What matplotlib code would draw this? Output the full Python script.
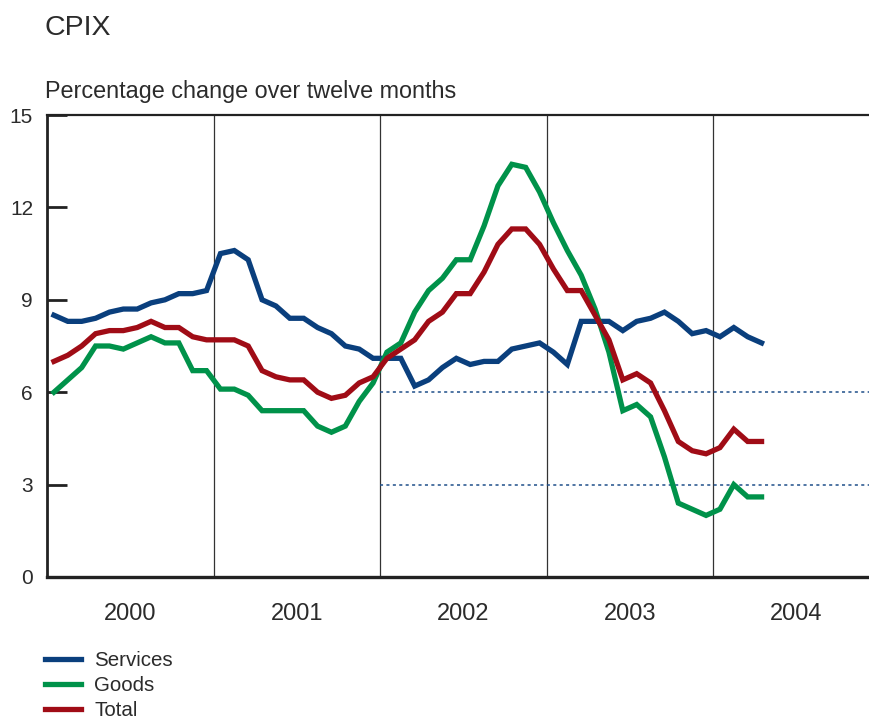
import numpy as np
import matplotlib
matplotlib.use('Agg')
import matplotlib.pyplot as plt

plt.rcParams['font.family'] = ['Liberation Sans', 'DejaVu Sans']

# monthly, Jan 2000 - Apr 2004
services = [8.5, 8.3, 8.3, 8.4, 8.6, 8.7, 8.7, 8.9, 9.0, 9.2, 9.2, 9.3,
            10.5, 10.6, 10.3, 9.0, 8.8, 8.4, 8.4, 8.1, 7.9, 7.5, 7.4, 7.1,
            7.1, 7.1, 6.2, 6.4, 6.8, 7.1, 6.9, 7.0, 7.0, 7.4, 7.5, 7.6,
            7.3, 6.9, 8.3, 8.3, 8.3, 8.0, 8.3, 8.4, 8.6, 8.3, 7.9, 8.0,
            7.8, 8.1, 7.8, 7.6]
goods = [6.0, 6.4, 6.8, 7.5, 7.5, 7.4, 7.6, 7.8, 7.6, 7.6, 6.7, 6.7,
         6.1, 6.1, 5.9, 5.4, 5.4, 5.4, 5.4, 4.9, 4.7, 4.9, 5.7, 6.3,
         7.3, 7.6, 8.6, 9.3, 9.7, 10.3, 10.3, 11.4, 12.7, 13.4, 13.3, 12.5,
         11.5, 10.6, 9.8, 8.7, 7.3, 5.4, 5.6, 5.2, 3.9, 2.4, 2.2, 2.0,
         2.2, 3.0, 2.6, 2.6]
total = [7.0, 7.2, 7.5, 7.9, 8.0, 8.0, 8.1, 8.3, 8.1, 8.1, 7.8, 7.7,
         7.7, 7.7, 7.5, 6.7, 6.5, 6.4, 6.4, 6.0, 5.8, 5.9, 6.3, 6.5,
         7.1, 7.4, 7.7, 8.3, 8.6, 9.2, 9.2, 9.9, 10.8, 11.3, 11.3, 10.8,
         10.0, 9.3, 9.3, 8.5, 7.7, 6.4, 6.6, 6.3, 5.4, 4.4, 4.1, 4.0,
         4.2, 4.8, 4.4, 4.4]
years = [2000, 2001, 2002, 2003, 2004]
target_lines = [6, 3]  # target range from 2002
yticks = [0, 3, 6, 9, 12, 15]

c_serv = '#0a3f7d'
c_goods = '#00924a'
c_total = '#a00c16'
txt = '#2b2b2b'

x = 2000 + (np.arange(len(services)) + 0.5) / 12
xmax = 2000 + 822 / 166.5

fig = plt.figure(figsize=(8.69, 7.19), dpi=100)
ax = fig.add_axes([47 / 869, 142 / 719, 822 / 869, 462 / 719])

for yr in years[1:]:
    ax.axvline(yr, color='#333333', lw=0.9, zorder=1)
for t in target_lines:
    ax.plot([2002, xmax], [t, t], color='#1f4f8a', lw=1.1, dashes=(2, 2.2), zorder=1)

ax.plot(x, services, color=c_serv, lw=3.8, label='Services', zorder=3, solid_joinstyle='miter')
ax.plot(x, goods, color=c_goods, lw=3.8, label='Goods', zorder=3, solid_joinstyle='miter')
ax.plot(x, total, color=c_total, lw=3.8, label='Total', zorder=3, solid_joinstyle='miter')

ax.set_xlim(2000, xmax)
ax.set_ylim(0, 15)
ax.set_yticks(yticks)
ax.tick_params(axis='y', direction='in', length=14.5, width=2, color='#222222',
               labelsize=15, labelcolor=txt, pad=10)
ax.yaxis.get_major_ticks()[0].tick1line.set_color(c_serv)
ax.set_xticks([y + 0.5 for y in years])
ax.set_xticklabels([str(y) for y in years])
ax.tick_params(axis='x', length=0, labelsize=17, labelcolor=txt, pad=19)

ax.spines['right'].set_visible(False)
ax.spines['left'].set_linewidth(2)
ax.spines['top'].set_linewidth(1.6)
ax.spines['bottom'].set_linewidth(2.4)
for s in ['left', 'top', 'bottom']:
    ax.spines[s].set_color('#222222')

fig.text(44 / 869, 1 - 35 / 719, 'CPIX', fontsize=20.5, color=txt, va='baseline')
fig.text(45 / 869, 1 - 98 / 719, 'Percentage change over twelve months',
         fontsize=16.8, color=txt, va='baseline')

fig.legend(loc='upper left', bbox_to_anchor=(45 / 869, 1 - 651 / 719),
           frameon=False, fontsize=14.8, handlelength=1.75, handletextpad=0.65,
           labelspacing=0.3, borderpad=0, borderaxespad=0, labelcolor=txt)

fig.savefig('out.png', dpi=100)
